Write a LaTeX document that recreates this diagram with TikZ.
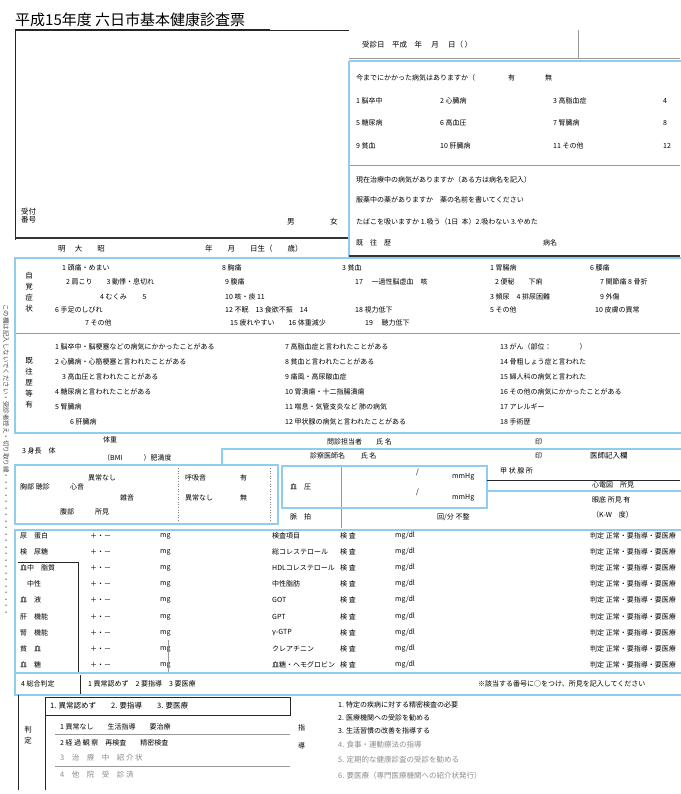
\documentclass[tikz,border=0pt]{standalone}
\usepackage{fontspec}
\newfontfamily\jp{Noto Sans CJK JP}
\definecolor{hl}{RGB}{143,204,238}
\tikzset{
  hlbox/.style={draw=hl,line width=2.6pt},
  frm/.style={draw=black!85,line width=0.9pt},
  frmthick/.style={draw=black!80,line width=1.6pt},
  gline/.style={draw=black!40,line width=0.7pt},
  dotl/.style={draw=black!50,line width=0.6pt,dotted},
  lab/.style={anchor=west,inner sep=0pt,font=\jp\fontsize{7.5}{9}\selectfont,text=black},
  labs/.style={lab,font=\jp\fontsize{7}{8}\selectfont},
  fade/.style={lab,text=black!45},
  vlab/.style={inner sep=0pt,font=\jp\fontsize{7.5}{11}\selectfont,align=center,text=black},
}
\begin{document}
\begin{tikzpicture}[x=1pt,y=-1pt]
\useasboundingbox (0,0) rectangle (680,794);
\fill[white] (0,0) rectangle (680,794);

% ---------- title ----------
\node[anchor=south west,inner sep=0pt,font=\jp\fontsize{15}{16}\selectfont] (title) at (15,27) {平成15年度\ 六日市基本健康診査票};
\draw[frm] (title.south west) ++(0,2) -- (270,29);

% ---------- top-left box ----------
\draw[frm] (15,30) -- (349,30);
\draw[frm] (15,30) -- (15,240);
\draw[frmthick] (15,238) -- (349,238);
\node[vlab,anchor=north west] (ban) at (21,208) {受付\\[-3pt]番号};
\node[lab] (otoko) at (287,222) {男};
\node[lab] (onna) at (330,222) {女};
\node[lab] (bir1) at (58,249) {明\quad\ 大\qquad 昭};
\node[lab] (bir2) at (205,249) {年　　月　　日生（　　歳）};

% ---------- visit row ----------
\node[lab] (jushin) at (362,45) {受診日\quad 平成\quad 年\quad\ 月\quad\ 日（\ ）};
\draw[gline] (578,30) -- (578,58);
\draw[gline] (349,58) -- (680,58);

% ---------- box 1 ----------
\node[labs] (q1) at (356,78) {今までにかかった病気はありますか（};
\node[labs] (q1a) at (508,78) {有};
\node[labs] (q1b) at (545,78) {無};
\node[labs] (d1) at (356,101) {1 脳卒中};
\node[labs] (d2) at (440,101) {2 心臓病};
\node[labs] (d3) at (553,101) {3 高脂血症};
\node[labs] (d4) at (663,101) {4};
\node[labs] (d5) at (356,123) {5 糖尿病};
\node[labs] (d6) at (440,123) {6 高血圧};
\node[labs] (d7) at (553,123) {7 腎臓病};
\node[labs] (d8) at (663,123) {8};
\node[labs] (d9) at (356,146) {9 貧血};
\node[labs] (d10) at (440,146) {10 肝臓病};
\node[labs] (d11) at (553,146) {11 その他};
\node[labs] (d12) at (663,146) {12};
\draw[gline] (349,165) -- (680,165);
\node[labs] (q2) at (356,180) {現在治療中の病気がありますか（ある方は病名を記入）};
\node[labs] (q3) at (356,200) {服薬中の薬がありますか　薬の名前を書いてください};
\node[labs] (q4) at (356,222) {たばこを吸いますか\ 1.吸う（1日\ \ 本）2.吸わない\ 3.やめた};
\node[labs] (q5) at (356,243) {既　往　歴};
\node[labs] (q5b) at (543,243) {病名};
\draw[hlbox] (349,61) -- (682,61);
\draw[hlbox] (349,61) -- (349,258);

% ---------- box 2 ----------
\draw[frmthick] (349,256) -- (680,256);
\node[vlab] (jikaku) at (29,292) {自\\覚\\症\\状};
\node[labs] (a1) at (62,268) {1 頭痛・めまい};
\node[labs] (a2) at (66,282) {2 肩こり\qquad 3 動悸・息切れ};
\node[labs] (a3) at (100,297) {4 むくみ\qquad\ 5};
\node[labs] (a4) at (55,310) {6 手足のしびれ};
\node[labs] (a5) at (85,323) {7 その他};
\node[labs] (b1) at (222,268) {8 胸痛};
\node[labs] (b2) at (225,282) {9 腹痛};
\node[labs] (b3) at (225,297) {10 咳・痰\ 11};
\node[labs] (b4) at (225,310) {12 不眠\quad 13 食欲不振\quad 14};
\node[labs] (b5) at (230,323) {15 疲れやすい\qquad 16 体重減少};
\node[labs] (c1) at (342,268) {3 貧血};
\node[labs] (c2) at (355,282) {17 \quad 一過性脳虚血\quad 咳};
\node[labs] (c3) at (355,310) {18 視力低下};
\node[labs] (c4) at (365,323) {19 \quad 聴力低下};
\node[labs] (e1) at (490,268) {1 胃腸病};
\node[labs] (e2) at (495,282) {2 便秘\qquad 下痢};
\node[labs] (e3) at (490,297) {3 頻尿\quad 4 排尿困難};
\node[labs] (e4) at (490,310) {5 その他};
\node[labs] (f1) at (590,268) {6 腰痛};
\node[labs] (f2) at (600,282) {7 関節痛\ 8 骨折};
\node[labs] (f3) at (600,297) {9 外傷};
\node[labs] (f4) at (595,310) {10 皮膚の異常};
\draw[gline] (15,333) -- (680,333);
\node[vlab] (kiou) at (29,383) {既\\往\\歴\\等\\有};
\node[labs] (g1) at (55,347) {1 脳卒中・脳梗塞などの病気にかかったことがある};
\node[labs] (g2) at (55,362) {2 心臓病・心筋梗塞と言われたことがある};
\node[labs] (g3) at (62,377) {3 高血圧と言われたことがある};
\node[labs] (g4) at (55,392) {4 糖尿病と言われたことがある};
\node[labs] (g5) at (55,407) {5 腎臓病};
\node[labs] (g6) at (70,422) {6 肝臓病};
\node[labs] (h1) at (285,347) {7 高脂血症と言われたことがある};
\node[labs] (h2) at (285,362) {8 貧血と言われたことがある};
\node[labs] (h3) at (285,377) {9 痛風・高尿酸血症};
\node[labs] (h4) at (285,392) {10 胃潰瘍・十二指腸潰瘍};
\node[labs] (h5) at (285,407) {11 喘息・気管支炎など\ 肺の病気};
\node[labs] (h6) at (285,422) {12 甲状腺の病気と言われたことがある};
\node[labs] (i1) at (500,347) {13 がん（部位：\qquad\qquad）};
\node[labs] (i2) at (500,362) {14 骨粗しょう症と言われた};
\node[labs] (i3) at (500,377) {15 婦人科の病気と言われた};
\node[labs] (i4) at (500,392) {16 その他の病気にかかったことがある};
\node[labs] (i5) at (500,407) {17 アレルギー};
\node[labs] (i6) at (500,422) {18 手術歴};
\draw[hlbox] (15,258) rectangle (682,433);

% ---------- measurements ----------
\node[labs] (shin) at (22,451) {3 身長\quad 体};
\node[labs] (tai) at (103,440) {体重};
\node[labs] (bmi) at (103,458) {（BMI\qquad\quad ）肥満度};
\node[labs] (mon) at (327,442) {問診担当者\qquad 氏\ 名};
\node[labs] (monin) at (535,442) {印};
\node[labs] (ishi) at (310,456) {診察医師名\qquad\ 氏\ 名};
\node[labs] (ishin) at (535,456) {印};
\node[lab] (kinyu) at (590,456) {医師記入欄};
\node[labs] (koujo) at (500,471) {甲\ 状\ 腺\ 所};
\draw[hlbox] (222,465) -- (222,449) -- (682,449);

% box 5
\node[labs] (ky1) at (20,487) {胸部\ 聴診};
\node[labs] (ky2) at (70,487) {心音};
\node[labs] (ky3) at (88,478) {異常なし};
\node[labs] (ky4) at (120,498) {雑音};
\node[labs] (ky5) at (185,478) {呼吸音};
\node[labs] (ky6) at (185,498) {異常なし};
\node[labs] (ky7) at (240,478) {有};
\node[labs] (ky8) at (240,498) {無};
\node[labs] (ky9) at (60,512) {腹部\qquad\quad 所見};
\draw[dotl] (178,468) -- (178,522);
\draw[dotl] (270,468) -- (270,522);
\draw[hlbox] (15,465) rectangle (278,524);

% box 6
\node[labs] (ketsu) at (290,487) {血　圧};
\draw[gline] (341,466) -- (341,528);
\node[labs] (mm1) at (452,477) {mmHg};
\node[labs] (mm2) at (452,498) {mmHg};
\node[labs] (sl1) at (416,472) {/};
\node[labs] (sl2) at (416,492) {/};
\node[labs] (myaku) at (290,517) {脈　拍};
\node[labs] (kai) at (437,517) {回/分\ 不整};
\draw[hlbox] (282,466) rectangle (487,508);
\draw[frm] (487,480) -- (680,480);
\draw[hlbox] (487,491) -- (682,491);
\node[labs] (sin) at (592,485) {心電図\quad 所見};
\node[labs] (gan) at (592,500) {眼底\ 所見\ 有};
\node[labs] (gan2) at (592,515) {（K-W\quad 度）};

% ---------- box 3 ----------
\draw[frm] (330,530) -- (680,530);
\foreach \y/\a/\b/\c/\d [count=\k] in {
 536/尿/蛋白/検査項目/判定,
 552/検/尿糖/総コレステロール/判定,
 568/血中/脂質/HDLコレステロール/判定,
 584/ /中性/中性脂肪/判定,
 600/血/液/GOT/判定,
 617/肝/機能/GPT/判定,
 633/腎/機能/γ-GTP/判定,
 649/貧/血/クレアチニン/判定,
 665/血/糖/血糖・ヘモグロビン/判定}{
  \node[labs] (l\k) at (20,\y) {\a\quad\b};
  \node[labs] (m\k) at (90,\y) {＋・－};
  \node[labs] (n\k) at (160,\y) {mg};
  \node[labs] (o\k) at (272,\y) {\c};
  \node[labs] (p\k) at (340,\y) {検\ 査};
  \node[labs] (q\k) at (395,\y) {mg/dl};
  \node[labs] (r\k) at (590,\y) {\d\ 正常・要指導・要医療};
}
\draw[frm] (18,562) -- (78,562) -- (78,673);
\draw[gline] (168,640) -- (168,673);
\draw[hlbox] (15,530) rectangle (682,673);

% ---------- box 4 ----------
\node[labs] (sogo) at (21,684) {4 総合判定};
\draw[frm] (80,675) -- (80,694);
\node[labs] (sogo2) at (88,684) {1 異常認めず\quad 2 要指導\quad 3 要医療};
\node[labs] (note) at (478,684) {※該当する番号に○をつけ、所見を記入してください};
\draw[hlbox] (15,673) rectangle (682,695);

% ---------- bottom ----------
\draw[frm] (18,695) -- (18,790);
\draw[frm] (45,700) -- (45,790);
\draw[frm] (45,697) rectangle (290,715);
\node[lab] (hantei) at (50,706) {1. 異常認めず\qquad 2. 要指導\qquad 3. 要医療};
\node[vlab] (han) at (28,735) {判\\定};
\node[labs] (s1) at (60,727) {1\ 異常なし\qquad 生活指導\qquad 要治療};
\node[labs] (s2) at (60,743) {2\ 経\ 過\ 観\ 察\quad 再検査\qquad 精密検査};
\node[fade] (s3) at (60,758) {3\quad 治\quad 療\quad 中\quad 紹\ 介\ 状};
\node[fade] (s4) at (60,775) {4\quad 他\quad 院\quad 受\quad 診\ 済};
\draw[gline] (55,734) -- (290,734);
\draw[gline] (55,766) -- (290,766);
\node[labs] (sh) at (298,728) {指};
\node[labs] (sh2) at (298,746) {導};
\node[labs] (t1) at (338,705) {1. 特定の疾病に対する精密検査の必要};
\node[labs] (t2) at (338,718) {2. 医療機関への受診を勧める};
\node[labs] (t3) at (338,731) {3. 生活習慣の改善を指導する};
\node[fade] (t4) at (338,745) {4. 食事・運動療法の指導};
\node[fade] (t5) at (338,760) {5. 定期的な健康診査の受診を勧める};
\node[fade] (t6) at (338,776) {6. 要医療（専門医療機関への紹介状発行）};

% left margin vertical text
\node[rotate=-90,inner sep=0pt,font=\jp\fontsize{6.5}{8}\selectfont,text=black!70] (margin) at (6,460) {この欄は記入しないでください・受診者控え・切り取り線・・・・・・・・・・・・・・・・・・・・・・};
\end{tikzpicture}
\end{document}
